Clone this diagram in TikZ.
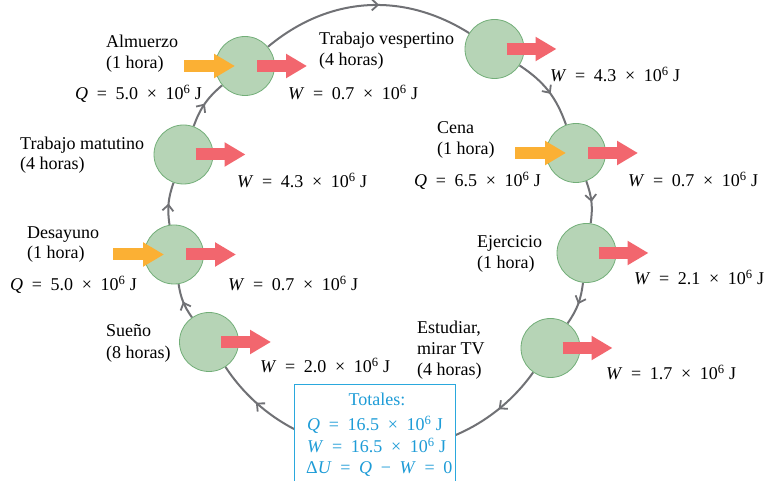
\documentclass[tikz,border=0pt]{standalone}
\usepackage{fontspec}
\setmainfont{Liberation Serif}
\usetikzlibrary{arrows.meta,decorations.markings,calc}
\definecolor{cgreen}{HTML}{B6D4B6}
\definecolor{cgreenb}{HTML}{72AE78}
\definecolor{cred}{HTML}{F2666E}
\definecolor{corange}{HTML}{FBB034}
\definecolor{cgray}{HTML}{707175}
\definecolor{cblue}{HTML}{1E9CD7}
\definecolor{cboxb}{HTML}{2AA8DD}
\newcommand{\eqsp}{\hspace{0.48em}}
\newcommand{\eqn}[2]{\textit{#1}\eqsp=\eqsp#2\eqsp×\eqsp10\textsuperscript{6}\hspace{0.25em}J}
\pgfdeclarelayer{bg}
\pgfsetlayers{bg,main}
\tikzset{
  station/.style={circle, fill=cgreen, draw=cgreenb, line width=0.8pt, minimum size=59pt, inner sep=0pt},
  loopseg/.style={draw=cgray, line width=2pt, postaction={decorate},
    decoration={markings, mark=at position #1 with {\arrow[cgray,line width=1.8pt]{Straight Barb[length=6pt,width=11pt]}}}},
  loopseg/.default=0.5,
  longseg/.style={draw=cgray, line width=2pt, postaction={decorate},
    decoration={markings,
      mark=at position 0.14 with {\arrow[cgray,line width=1.8pt]{Straight Barb[length=6pt,width=11pt]}},
      mark=at position 0.87 with {\arrow[cgray,line width=1.8pt]{Straight Barb[length=6pt,width=11pt]}}}},
  heat/.style={draw=corange, line width=12pt, -{Triangle[length=21pt,width=23pt]}},
  work/.style={draw=cred, line width=12pt, -{Triangle[length=21pt,width=23pt]}},
  lbl/.style={anchor=base west, inner sep=0pt, font=\fontsize{18}{21}\selectfont},
  tot/.style={lbl, text=cblue},
  totbox/.style={draw=cboxb, fill=white, line width=1.2pt, anchor=north west, minimum width=161pt, minimum height=120pt, inner sep=0pt},
}
\begin{document}
\begin{tikzpicture}[x=1pt,y=1pt]
\clip (0,0) rectangle (765,481);
% stations
\node[station] (alm) at (245,415) {};
\node[station] (ves) at (494.5,432) {};
\node[station] (cena) at (576,328) {};
\node[station] (ejer) at (586.5,228) {};
\node[station] (est) at (550.5,133) {};
\node[station] (sue) at (209,139) {};
\node[station] (des) at (174,226.5) {};
\node[station] (mat) at (183.5,326.5) {};
% totals box
\node[totbox] (box) at (294,97) {};
% loop
\begin{pgfonlayer}{bg}
\fill[white] (0,0) rectangle (765,481);
\path[loopseg=0.56] (alm) to[bend left=36] (ves);
\path[loopseg=0.55] (ves) to[bend left=18.6] (cena);
\path[loopseg] (cena) to[bend left=14] (ejer);
\path[loopseg] (ejer) to[bend left=14] (est);
\path[longseg] (est) to[bend left=55.6, looseness=1.08] (sue);
\path[loopseg] (sue) to[bend left=13] (des);
\path[loopseg] (des) to[bend left=14] (mat);
\path[loopseg] (mat) to[bend left=15] (alm);
\end{pgfonlayer}
% heat in
\coordinate (hA) at ($(alm)+(-61,0)$);
\coordinate (hB) at ($(des)+(-61,0)$);
\coordinate (hC) at ($(cena)+(-61,0)$);
\draw[heat] (hA) -- ($(alm)+(-10,0)$);
\draw[heat] (hB) -- ($(des)+(-10,0)$);
\draw[heat] (hC) -- ($(cena)+(-10,0)$);
% work out
\foreach \s in {alm,ves,cena,ejer,est,sue,des,mat}{
  \draw[work] ($(\s)+(12,0)$) -- ($(\s)+(62,0)$);
}
% labels
\node[lbl] (l1) at (106,433) {Almuerzo};
\node[lbl] (l2) at (106,412.5) {(1 hora)};
\node[lbl] (q1) at (75,381.5) {\eqn{Q}{5.0}};
\node[lbl] (l3) at (319,436) {Trabajo vespertino};
\node[lbl] (l4) at (319,415.3) {(4 horas)};
\node[lbl] (w1) at (288,381) {\eqn{W}{0.7}};
\node[lbl] (l5) at (20,331) {Trabajo matutino};
\node[lbl] (l6) at (20,311.5) {(4 horas)};
\node[lbl] (w2) at (237,293.5) {\eqn{W}{4.3}};
\node[lbl] (w3) at (550,399.3) {\eqn{W}{4.3}};
\node[lbl] (l7) at (437,347.7) {Cena};
\node[lbl] (l8) at (437,326) {(1 hora)};
\node[lbl] (q2) at (414,294.3) {\eqn{Q}{6.5}};
\node[lbl] (w4) at (628,294.3) {\eqn{W}{0.7}};
\node[lbl] (l9) at (477,233.3) {Ejercicio};
\node[lbl] (l10) at (477,212.7) {(1 hora)};
\node[lbl] (w5) at (634,196) {\eqn{W}{2.1}};
\node[lbl] (l11) at (417,147.7) {Estudiar,};
\node[lbl] (l12) at (417,126) {mirar TV};
\node[lbl] (l13) at (417,105.3) {(4 horas)};
\node[lbl] (w6) at (606,101) {\eqn{W}{1.7}};
\node[lbl] (l14) at (27,242.7) {Desayuno};
\node[lbl] (l15) at (27,222.7) {(1 hora)};
\node[lbl] (q3) at (10,190.3) {\eqn{Q}{5.0}};
\node[lbl] (w7) at (228,190.3) {\eqn{W}{0.7}};
\node[lbl] (l16) at (106,144.3) {Sueño};
\node[lbl] (l17) at (106,122.7) {(8 horas)};
\node[lbl] (w8) at (260,108.7) {\eqn{W}{2.0}};
% totals text
\node[tot, anchor=base] (t0) at (377,75) {Totales:};
\node[tot] (t1) at (307,50.3) {\eqn{Q}{16.5}};
\node[tot] (t2) at (307,28.7) {\eqn{W}{16.5}};
\node[tot] (t3) at (306,7.7) {Δ\textit{U}\eqsp=\eqsp\textit{Q}\eqsp−\eqsp\textit{W}\eqsp=\eqsp0};
\end{tikzpicture}
\end{document}
